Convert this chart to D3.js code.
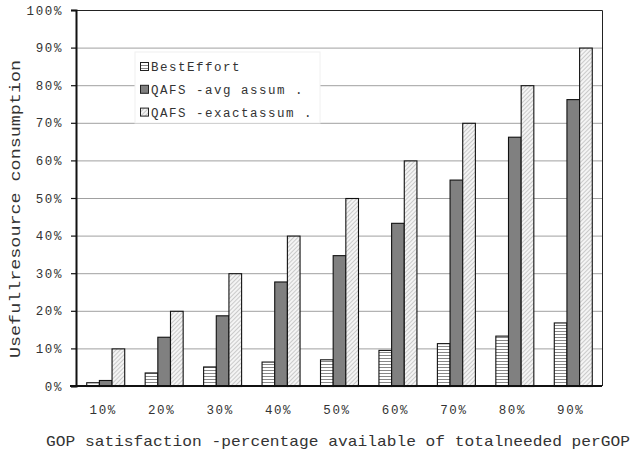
<!DOCTYPE html>
<html lang="en">
<head>
    <meta charset="UTF-8">
    <title>Useful resource consumption</title>
    <script src="https://d3js.org/d3.v7.min.js"></script>
    <style>
        body { margin: 0; background: #fff; }
        text { font-family: "Courier New", "Liberation Mono", monospace; fill: #333; }
    </style>
</head>
<body>
    <div id="chart"></div>
    <script>
        // data
        var categories = ["10%", "20%", "30%", "40%", "50%", "60%", "70%", "80%", "90%"];
        var seriesNames = ["BestEffort", "QAFS -avg assum .", "QAFS -exactassum ."];
        var bestEffort = [1.0, 3.6, 5.2, 6.5, 7.1, 9.6, 11.4, 13.4, 16.9];
        var avgAssum = [1.6, 13.1, 18.8, 27.8, 34.8, 43.4, 54.9, 66.3, 76.3];
        var exactAssum = [10, 20, 30, 40, 50, 60, 70, 80, 90];
        var yTicks = [0, 10, 20, 30, 40, 50, 60, 70, 80, 90, 100];

        var width = 632, height = 454;
        var m = { left: 76, top: 10, right: 30, bottom: 68 };
        var plotW = width - m.left - m.right;
        var plotH = height - m.top - m.bottom;
        var font = '"Courier New", "Liberation Mono", monospace';

        var svg = d3.select('#chart').append('svg')
            .attr('width', width)
            .attr('height', height);

        // fill patterns
        var defs = svg.append('defs');
        var horiz = defs.append('pattern')
            .attr('id', 'horiz')
            .attr('patternUnits', 'userSpaceOnUse')
            .attr('width', 4).attr('height', 3);
        horiz.append('rect').attr('width', 4).attr('height', 3).attr('fill', '#fff');
        horiz.append('line').attr('x1', 0).attr('x2', 4).attr('y1', 0.5).attr('y2', 0.5)
            .attr('stroke', '#888').attr('stroke-width', 1);

        var diag = defs.append('pattern')
            .attr('id', 'diag')
            .attr('patternUnits', 'userSpaceOnUse')
            .attr('width', 3).attr('height', 3)
            .attr('patternTransform', 'rotate(45)');
        diag.append('rect').attr('width', 3).attr('height', 3).attr('fill', '#f4f4f4');
        diag.append('line').attr('x1', 0).attr('x2', 0).attr('y1', 0).attr('y2', 3)
            .attr('stroke', '#b8b8b8').attr('stroke-width', 1.4);

        var fills = ['url(#horiz)', '#808080', 'url(#diag)'];
        var series = [bestEffort, avgAssum, exactAssum];

        var g = svg.append('g').attr('transform', 'translate(' + m.left + ',' + m.top + ')');

        var yScale = d3.scaleLinear().domain([0, 100]).range([plotH, 0]);
        var xScale = d3.scaleBand().domain(categories).range([0, plotW]).paddingInner(0.35).paddingOuter(0.175);
        var xSub = d3.scaleBand().domain(d3.range(3)).range([0, xScale.bandwidth()]);

        // gridlines
        g.selectAll('.grid').data(yTicks.slice(1, -1)).enter().append('line')
            .attr('x1', 0).attr('x2', plotW)
            .attr('y1', d => yScale(d) + 0.5).attr('y2', d => yScale(d) + 0.5)
            .attr('stroke', '#a0a0a0').attr('stroke-width', 1);

        // frame top / right
        g.append('path')
            .attr('d', 'M0,' + (yScale(100) + 0.5) + 'H' + (plotW + 0.5) + 'V' + plotH)
            .attr('fill', 'none').attr('stroke', '#222').attr('stroke-width', 1);

        // legend box (covers gridlines)
        var leg = g.append('g').attr('transform', 'translate(59,42)');
        leg.append('rect').attr('x', 0).attr('y', 0).attr('width', 185).attr('height', 71)
            .attr('fill', '#fff').attr('stroke', '#f0f0f0');
        seriesNames.forEach(function (name, i) {
            var row = leg.append('g').attr('transform', 'translate(5,' + (10 + i * 22.8) + ')');
            row.append('rect').attr('x', 0.5).attr('y', 0.5).attr('width', 8).attr('height', 8)
                .attr('fill', fills[i]).attr('stroke', '#222').attr('stroke-width', 1);
            row.append('text').attr('x', 11).attr('y', 9)
                .attr('font-size', 12.5).attr('letter-spacing', 1.5)
                .text(name);
        });

        // bars
        var groups = g.selectAll('.grp').data(categories).enter().append('g')
            .attr('transform', d => 'translate(' + xScale(d) + ',0)');
        groups.selectAll('rect')
            .data((d, i) => series.map((s, k) => ({ k: k, v: s[i] })))
            .enter().append('rect')
            .attr('x', d => xSub(d.k) + 0.5)
            .attr('width', xSub.bandwidth())
            .attr('y', d => yScale(d.v) + 0.5)
            .attr('height', d => plotH - yScale(d.v))
            .attr('fill', d => fills[d.k])
            .attr('stroke', '#111').attr('stroke-width', 1.1);

        // y axis
        var yAxis = g.append('g').call(d3.axisLeft(yScale).tickValues(yTicks)
            .tickFormat(d => d + '%').tickSize(5).tickPadding(8));
        yAxis.select('.domain').attr('stroke', '#111').attr('stroke-width', 2);
        yAxis.selectAll('.tick line').attr('stroke', '#111').attr('stroke-width', 1.2);
        yAxis.selectAll('text').attr('font-size', 12.5).attr('letter-spacing', 1.6)
            .attr('font-family', font).attr('fill', '#333');

        // x axis
        var xAxis = g.append('g').attr('transform', 'translate(0,' + plotH + ')')
            .call(d3.axisBottom(xScale).tickSize(0).tickPadding(19));
        xAxis.select('.domain').attr('d', 'M-6,0H' + plotW).attr('stroke', '#111').attr('stroke-width', 2);
        xAxis.selectAll('text').attr('font-size', 12.5).attr('letter-spacing', 1.6)
            .attr('font-family', font).attr('fill', '#333')
            .attr('dx', '-2');

        // axis titles
        svg.append('text')
            .attr('x', 46).attr('y', 446)
            .attr('font-size', 15)
            .attr('textLength', 584).attr('lengthAdjust', 'spacingAndGlyphs')
            .text('GOP satisfaction -percentage available of totalneeded perGOP');

        svg.append('text')
            .attr('transform', 'translate(20,358) rotate(-90)')
            .attr('font-size', 15)
            .attr('textLength', 298).attr('lengthAdjust', 'spacingAndGlyphs')
            .text('Usefullresource consumption');
    </script>
</body>
</html>
